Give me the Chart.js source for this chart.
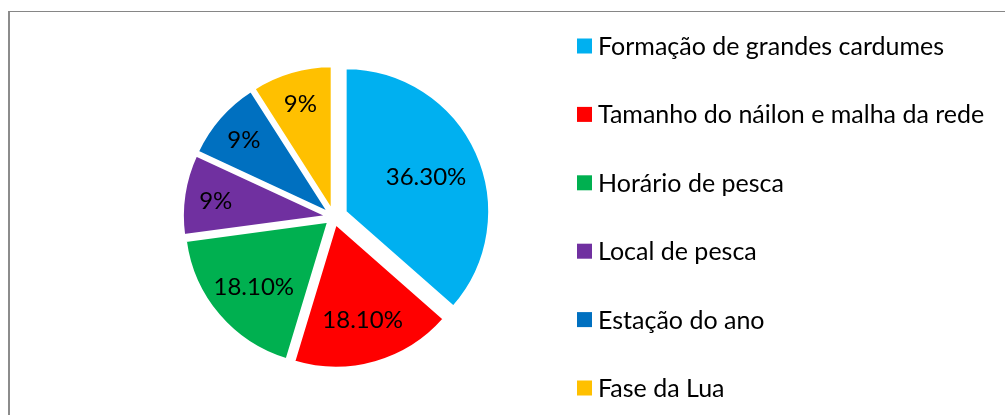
<!DOCTYPE html>
<html>
<head>
<meta charset="utf-8">
<script src="https://cdn.jsdelivr.net/npm/chart.js@4.4.0/dist/chart.umd.min.js"></script>
<style>
  body { margin: 0; background: #fff; overflow: hidden; }
  #frame {
    position: absolute; left: 8px; top: 11px; width: 1100px; height: 500px;
    border-top: 1px solid #868686; border-left: 2px solid #8c8c8c;
  }
  #pie { position: absolute; left: 0; top: 0; }
</style>
</head>
<body>
<div id="frame"></div>
<canvas id="pie" width="1005" height="415"></canvas>
<script>
const categories = [
  "Formação de grandes cardumes",
  "Tamanho do náilon e malha da rede",
  "Horário de pesca",
  "Local de pesca",
  "Estação do ano",
  "Fase da Lua"
];
const shares = [36.3, 18.1, 18.1, 9, 9, 9];
const sliceColors = ["#00b0f0", "#ff0000", "#00b050", "#7030a0", "#0070c0", "#ffc000"];

const FONT = "Lato, 'Open Sans', sans-serif";

// pixels a slice is pulled out; the first slice sits further out
function explode(i) {
  return i === 0 ? 13 : 7.5;
}

function fmt(v) {
  return Number.isInteger(v) ? v + "%" : v.toFixed(2) + "%";
}

// Chart.js' own offset also grows the radius of narrow slices,
// so pull each arc out along its bisector instead
const pullOut = {
  id: "pullOut",
  afterDatasetUpdate(chart, args) {
    args.meta.data.forEach((arc, i) => {
      const mid = (arc.startAngle + arc.endAngle) / 2;
      arc.x += Math.cos(mid) * explode(i);
      arc.y += Math.sin(mid) * explode(i);
    });
  }
};

// percentage labels inside the slices
const sliceLabels = {
  id: "sliceLabels",
  afterDatasetsDraw(chart) {
    const ctx = chart.ctx;
    const meta = chart.getDatasetMeta(0);
    ctx.save();
    ctx.font = "24px " + FONT;
    ctx.fillStyle = "#000";
    ctx.textAlign = "center";
    ctx.textBaseline = "middle";
    meta.data.forEach((arc, i) => {
      const mid = (arc.startAngle + arc.endAngle) / 2;
      const v = shares[i];
      const f = v > 30 ? 0.615 : v > 15 ? 0.68 : 0.78;
      const r = arc.outerRadius * f;
      ctx.fillText(fmt(v), arc.x + Math.cos(mid) * r, arc.y + Math.sin(mid) * r + 2);
    });
    ctx.restore();
  }
};

// legend on the right, drawn by hand so the spacing matches
const sideLegend = {
  id: "sideLegend",
  afterDraw(chart) {
    const ctx = chart.ctx;
    const x = 577, y0 = 46, step = 68.4, box = 15;
    ctx.save();
    ctx.font = "25px " + FONT;
    ctx.textBaseline = "middle";
    chart.data.labels.forEach((lab, i) => {
      const y = y0 + i * step;
      ctx.fillStyle = chart.data.datasets[0].backgroundColor[i];
      ctx.fillRect(x, y - box / 2, box, box);
      ctx.fillStyle = "#000";
      ctx.fillText(lab, x + 21, y + 1);
    });
    ctx.restore();
  }
};

new Chart(document.getElementById("pie"), {
  type: "pie",
  data: {
    labels: categories,
    datasets: [{
      data: shares,
      backgroundColor: sliceColors,
      borderColor: "#fff",
      borderWidth: 2,
      radius: 143.5
    }]
  },
  options: {
    responsive: false,
    animation: false,
    layout: { padding: { left: 183.8, top: 67, right: 521.2, bottom: 48 } },
    plugins: {
      legend: { display: false },
      tooltip: { enabled: false }
    }
  },
  plugins: [pullOut, sliceLabels, sideLegend]
});
</script>
</body>
</html>
